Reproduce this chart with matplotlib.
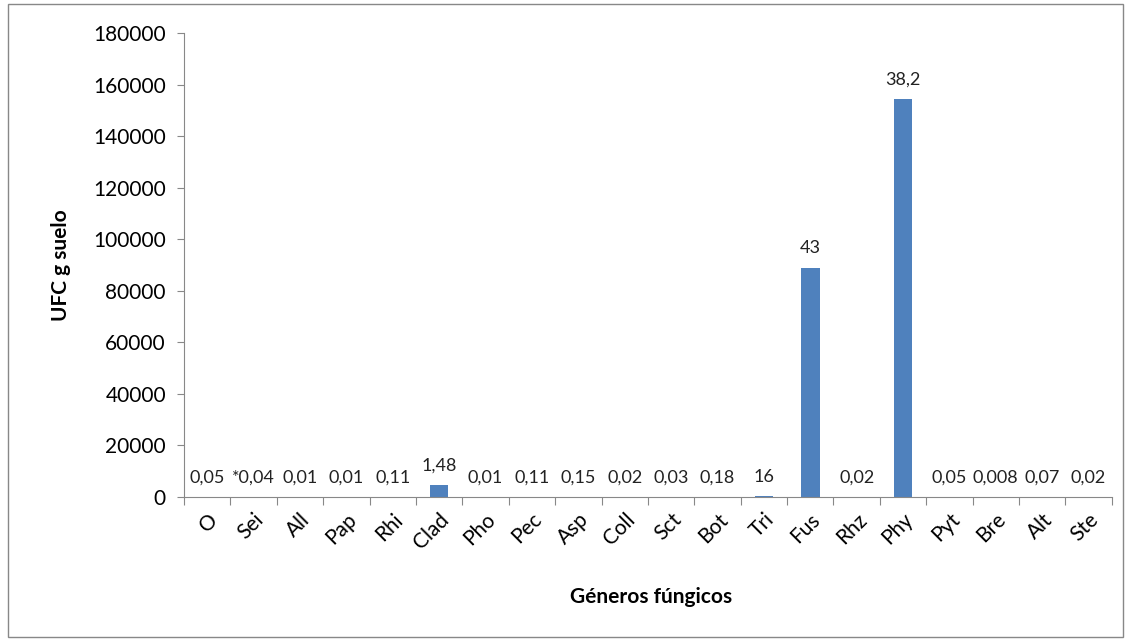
import numpy as np
import matplotlib.pyplot as plt
from matplotlib.patches import Rectangle

plt.rcParams['font.family'] = ['Lato', 'DejaVu Sans']

generos = ['O', 'Sei', 'All', 'Pap', 'Rhi', 'Clad', 'Pho', 'Pec', 'Asp', 'Coll',
           'Sct', 'Bot', 'Tri', 'Fus', 'Rhz', 'Phy', 'Pyt', 'Bre', 'Alt', 'Ste']
ufc = [60, 50, 30, 30, 150, 4600, 30, 100, 180, 40,
       50, 100, 250, 89000, 40, 154500, 60, 20, 80, 40]
etiquetas = ['0,05', '*0,04', '0,01', '0,01', '0,11', '1,48', '0,01', '0,11', '0,15', '0,02',
             '0,03', '0,18', '16', '43', '0,02', '38,2', '0,05', '0,008', '0,07', '0,02']

fig = plt.figure(figsize=(11.31, 6.41), dpi=100)
ax = fig.add_axes([0.1627, 0.2247, 0.8203, 0.7238])

x = np.arange(len(generos))
ax.bar(x, ufc, width=0.4, color='#4F81BD')

for xi, v, t in zip(x, ufc, etiquetas):
    ax.annotate(t, (xi, v), xytext=(0, 8), textcoords='offset points',
                ha='center', va='bottom', fontsize=13, color='#222222')

ax.set_xlim(-0.5, len(generos) - 0.5)
ax.set_ylim(0, 180000)
ax.set_yticks(np.arange(0, 180001, 20000))
ax.tick_params(axis='y', labelsize=15, length=5, color='#888888', pad=8)

ax.set_xticks(np.arange(-0.5, len(generos), 1))
ax.set_xticklabels([])
ax.tick_params(axis='x', which='major', length=6, color='#888888', direction='out')
ax.set_xticks(x, minor=True)
ax.set_xticklabels(generos, minor=True, rotation=45, ha='right', rotation_mode='anchor', fontsize=15)
ax.tick_params(axis='x', which='minor', length=0, pad=9)

for s in ['top', 'right']:
    ax.spines[s].set_visible(False)
for s in ['left', 'bottom']:
    ax.spines[s].set_color('#888888')

ax.set_ylabel('UFC g suelo', fontsize=15, fontweight='bold', labelpad=16)
fig.text(0.5757, 0.068, 'Géneros fúngicos', ha='center', va='center', fontsize=15, fontweight='bold')

fig.patches.append(Rectangle((0.007, 0.006), 0.986, 0.988, transform=fig.transFigure,
                             fill=False, edgecolor='#888888', linewidth=1))

fig.savefig('out.png', dpi=100)
